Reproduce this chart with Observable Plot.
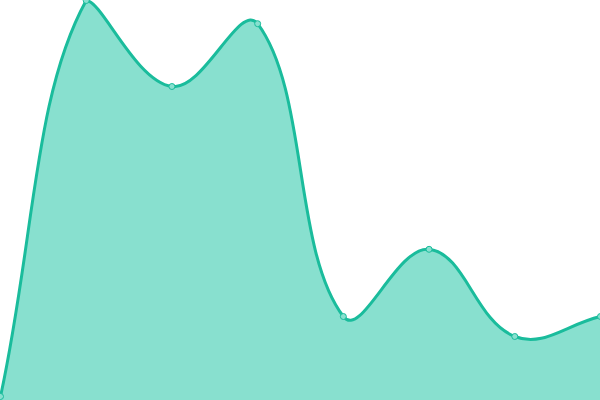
<!DOCTYPE html>
<html><head><meta charset="utf-8">
<script src="https://cdn.jsdelivr.net/npm/d3@7"></script>
<script src="https://cdn.jsdelivr.net/npm/@observablehq/plot@0.6"></script>
<style>body{margin:0;background:#fff;overflow:hidden}</style>
</head><body><div id="chart"></div>
<script>
const xs = [0, 1, 2, 3, 4, 5, 6, 7];
const values = [1, 100, 78.5, 94.2, 21, 37.8, 16, 21];
const data = xs.map((x, i) => ({x, y: values[i]}));
const W = 600, H = 400, TENSION = 0.4;

// Spline with distance-weighted control points (tension 0.4), control points capped to the plot area
function splineCurve(context) {
  let pts = [], line;
  return {
    areaStart() { line = 0; },
    areaEnd() { line = NaN; },
    lineStart() { pts = []; },
    point(x, y) { pts.push([+x, +y]); },
    lineEnd() {
      const n = pts.length;
      if (n) {
        const cps = pts.map((cur, i) => {
          const prev = pts[Math.max(i - 1, 0)], next = pts[Math.min(i + 1, n - 1)];
          const d01 = Math.hypot(cur[0] - prev[0], cur[1] - prev[1]);
          const d12 = Math.hypot(next[0] - cur[0], next[1] - cur[1]);
          let s01 = d01 / (d01 + d12), s12 = d12 / (d01 + d12);
          if (isNaN(s01)) s01 = 0;
          if (isNaN(s12)) s12 = 0;
          const fa = TENSION * s01, fb = TENSION * s12;
          const cx = v => Math.max(0, Math.min(W, v)), cy = v => Math.max(0, Math.min(H, v));
          return {
            p: [cx(cur[0] - fa * (next[0] - prev[0])), cy(cur[1] - fa * (next[1] - prev[1]))],
            n: [cx(cur[0] + fb * (next[0] - prev[0])), cy(cur[1] + fb * (next[1] - prev[1]))]
          };
        });
        if (line) context.lineTo(pts[0][0], pts[0][1]);
        else context.moveTo(pts[0][0], pts[0][1]);
        for (let i = 1; i < n; ++i) {
          context.bezierCurveTo(cps[i - 1].n[0], cps[i - 1].n[1], cps[i].p[0], cps[i].p[1], pts[i][0], pts[i][1]);
        }
      }
      if (line) context.closePath();
      line = 1 - line;
    }
  };
}

const chart = Plot.plot({
  width: W, height: H, margin: 0,
  x: {domain: [0, 7], axis: null},
  y: {domain: [0, 100], axis: null},
  marks: [
    Plot.areaY(data, {x: "x", y: "y", curve: splineCurve, fill: "#88e0cf"}),
    Plot.lineY(data, {x: "x", y: "y", curve: splineCurve, stroke: "#1abc9c", strokeWidth: 3}),
    Plot.dot(data, {x: "x", y: "y", r: 3, fill: "#88e0cf", stroke: "#1abc9c", strokeWidth: 1})
  ]
});
document.getElementById("chart").appendChild(chart);
</script></body></html>
